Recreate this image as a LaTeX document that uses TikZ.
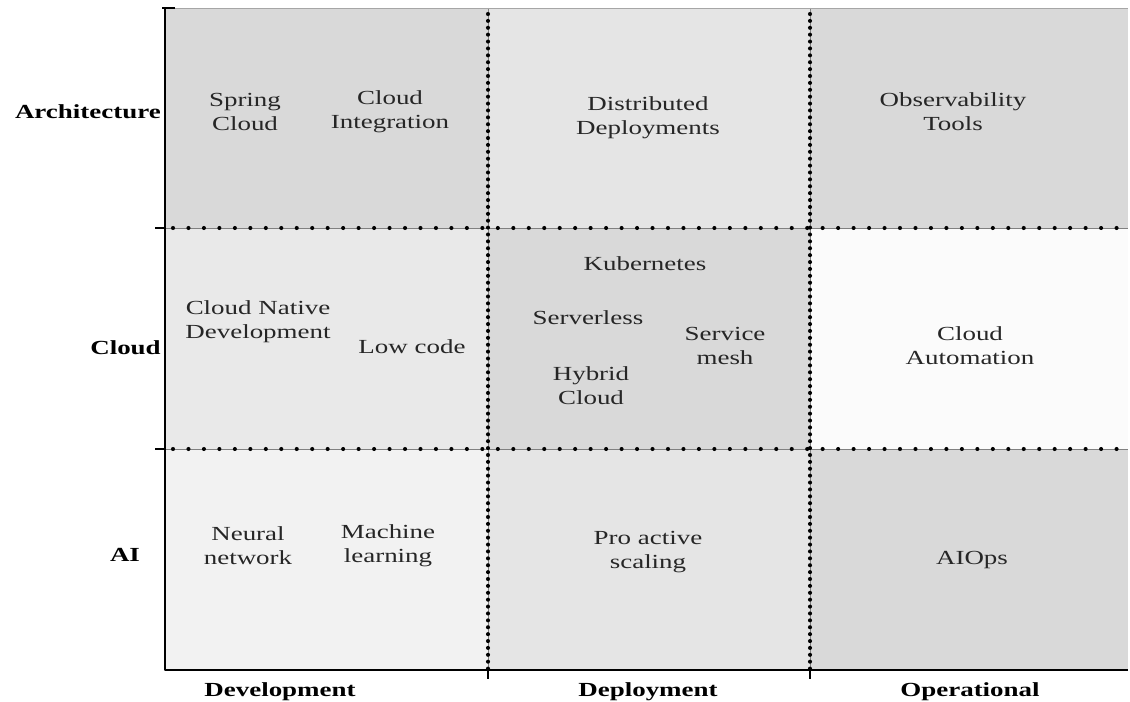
\documentclass[tikz,border=0pt]{standalone}
\usepackage{fontspec}
\setmainfont{Liberation Serif}[FakeStretch=1.35]
\definecolor{shadeA}{gray}{0.85}
\definecolor{shadeB}{gray}{0.90}
\definecolor{shadeC}{gray}{0.915}
\definecolor{shadeD}{gray}{0.95}
\definecolor{shadeE}{gray}{0.985}
\tikzset{
  item/.style={align=center,inner sep=0pt,text=black!85},
  axislabel/.style={inner sep=0pt,font=\fontsize{14.2}{17}\selectfont\bfseries},
  hdots/.style={line width=2.9pt,line cap=round,dash pattern=on 0pt off 11pt},
  vdots/.style={line width=2.9pt,line cap=round,dash pattern=on 0pt off 4.9pt},
  guide/.style={gray,line width=0.6pt}
}
\begin{document}
\begin{tikzpicture}[x=0.025cm,y=-0.025cm,line join=round,font=\fontsize{14.2}{17}\selectfont]
			\def\xl{165}; \def\xa{488}; \def\xb{810}; \def\xr{1128};
			\def\yt{8}; \def\ya{228}; \def\yb{449}; \def\yd{670};
			\useasboundingbox (0,0) rectangle (1130,702);
			% cell shading, row by row
			\fill[shadeA] (\xl,\yt) rectangle (\xa,\ya);
			\fill[shadeB] (\xa,\yt) rectangle (\xb,\ya);
			\fill[shadeA] (\xb,\yt) rectangle (\xr,\ya);
			\fill[shadeC] (\xl,\ya) rectangle (\xa,\yb);
			\fill[shadeA] (\xa,\ya) rectangle (\xb,\yb);
			\fill[shadeE] (\xb,\ya) rectangle (\xr,\yb);
			\fill[shadeD] (\xl,\yb) rectangle (\xa,\yd);
			\fill[shadeB] (\xa,\yb) rectangle (\xb,\yd);
			\fill[shadeA] (\xb,\yb) rectangle (\xr,\yd);
			% dotted grid
			\draw[guide] (\xl,\ya) -- (\xr,\ya) (\xl,\yb) -- (\xr,\yb) (\xa,\yt) -- (\xa,\yd) (\xb,\yt) -- (\xb,\yd);
			\draw[hdots] (\xl+8,\ya) -- (\xr,\ya) (\xl+8,\yb) -- (\xr,\yb);
			\draw[vdots] (\xa,\yt+6) -- (\xa,\yd) (\xb,\yt+6) -- (\xb,\yd);
			\draw[gray!70,line width=0.6pt] (\xl,\yt) -- (\xr,\yt);
			% axes and ticks
			\draw[line width=1.2pt] (\xl-3,\yt) -- (\xl+10,\yt) (\xl,\yt) -- (\xl,\yd) -- (\xr,\yd);
			\draw[line width=1.2pt] (\xl-10,\ya) -- (\xl,\ya) (\xl-10,\yb) -- (\xl,\yb);
			\draw[line width=1.2pt] (\xa,\yd) -- (\xa,\yd+9) (\xb,\yd) -- (\xb,\yd+9);
			% row and column labels
			\node[axislabel,anchor=east] (arch) at (161,112) {Architecture};
			\node[axislabel,anchor=east] (cloud) at (161,348) {Cloud};
			\node[axislabel] (ai) at (125,555) {AI};
			\node[axislabel] (dev) at (280,692) {Development};
			\node[axislabel] (depl) at (648,692) {Deployment};
			\node[axislabel] (oper) at (970,692) {Operational};
			% architecture row
			\node[item] (spring) at (245,112) {Spring\\Cloud};
			\node[item] (integ) at (390,112) {Cloud\\Integration};
			\node[item] (distr) at (648,118) {Distributed\\Deployments};
			\node[item] (observ) at (953,112) {Observability\\Tools};
			% cloud row
			\node[item] (native) at (258,322) {Cloud Native\\Development};
			\node[item] (lowcode) at (412,347) {Low code};
			\node[item] (kube) at (645,264) {Kubernetes};
			\node[item] (serverless) at (588,318) {Serverless};
			\node[item] (mesh) at (725,346) {Service\\mesh};
			\node[item] (hybrid) at (591,386) {Hybrid\\Cloud};
			\node[item] (autom) at (970,346) {Cloud\\Automation};
			% ai row
			\node[item] (neural) at (248,546) {Neural\\network};
			\node[item] (ml) at (388,546) {Machine\\learning};
			\node[item] (scaling) at (648,552) {Pro active\\scaling};
			\node[item] (aiops) at (972,560) {AIOps};
		\end{tikzpicture}
\end{document}
